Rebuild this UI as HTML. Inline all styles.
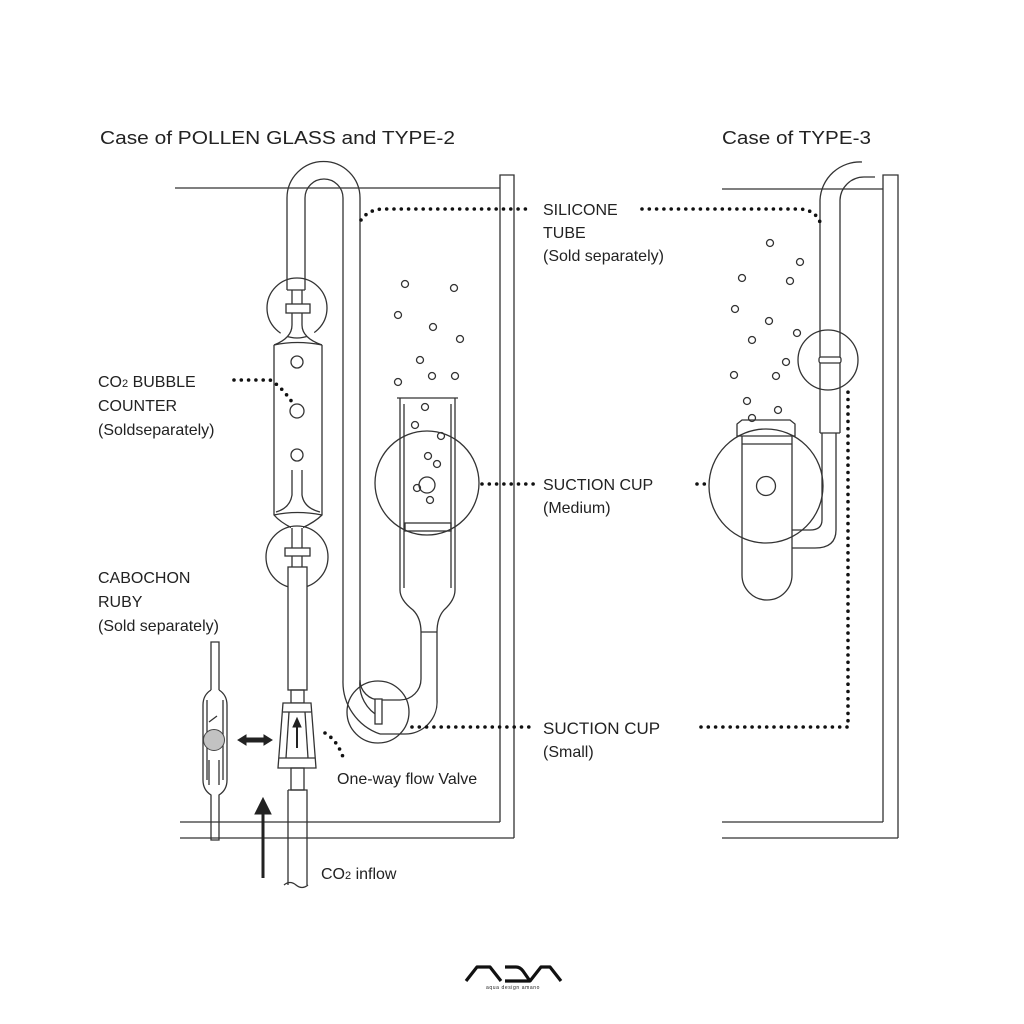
<!DOCTYPE html>
<html><head><meta charset="utf-8"><style>
html,body{margin:0;padding:0;background:#fff;}
svg{display:block;}
text{font-family:"Liberation Sans",sans-serif;fill:#222;}
</style></head><body>
<svg width="1024" height="1024" viewBox="0 0 1024 1024" xmlns="http://www.w3.org/2000/svg">
<g fill="none" stroke="#333" stroke-width="1.3">
<line x1="175" y1="188" x2="500" y2="188"/>
<path d="M500 822 V175 H514 V838"/>
<line x1="180" y1="822" x2="500" y2="822"/>
<line x1="180" y1="838" x2="514" y2="838"/>

<path d="M287 290 V198 A36.5 36.5 0 0 1 360 198 V680 A37 37 0 0 0 380 717"/>
<path d="M305 290 V198 A19 19 0 0 1 343 198 V680 A55 55 0 0 0 380 734"/>
<path d="M380 734 H405 A32 32 0 0 0 437 700 V632 M360 680 A20 20 0 0 0 380 700 H400 A21 21 0 0 0 421 679 V632 M421 632 H437"/>

<circle cx="297" cy="308" r="30"/>
<rect x="287" y="290" width="18" height="14" fill="#fff" stroke="none"/>
<line x1="287" y1="290" x2="305" y2="290"/>
<rect x="286" y="304" width="24" height="9" fill="#fff"/>
<line x1="292" y1="290" x2="292" y2="304"/><line x1="302" y1="290" x2="302" y2="304"/>
<path d="M292 313 V325 Q292 338 274 345 M302 313 V325 Q302 338 322 345" fill="#fff"/>
<path d="M274 345 Q297 340 322 345"/>
<path d="M274 345 V515 Q280 522 292 528 M322 345 V515 Q315 522 302 528"/>
<path d="M274 515 Q297 510 322 515"/>
<path d="M292 470 V495 Q290 508 276 512 M302 470 V495 Q304 508 320 512"/>
<circle cx="297" cy="362" r="6"/><circle cx="297" cy="411" r="7"/><circle cx="297" cy="455" r="6"/>
<circle cx="297" cy="557" r="31"/>
<rect x="291" y="527" width="12" height="21" fill="#fff" stroke="none"/>
<line x1="292" y1="528" x2="292" y2="548"/><line x1="302" y1="528" x2="302" y2="548"/>
<rect x="285" y="548" width="25" height="8" fill="#fff"/>
<line x1="292" y1="556" x2="292" y2="567"/><line x1="302" y1="556" x2="302" y2="567"/>
<rect x="288" y="567" width="19" height="123" fill="#fff"/>
<rect x="291" y="690" width="13" height="13"/>
<path d="M283 703 H311 L316 768 H278 Z" fill="#fff"/>
<line x1="283" y1="712" x2="311" y2="712"/><line x1="279" y1="758" x2="315" y2="758"/>
<line x1="289" y1="712" x2="286" y2="758"/><line x1="305" y1="712" x2="308" y2="758"/>
<rect x="291" y="768" width="13" height="22"/>
<path d="M288 790 H307 V885 M288 790 V885"/>
<path d="M284 885 Q290 880 296 885 T308 885" />

<path d="M211 690 V642 H219 V690"/>
<path d="M211 690 Q203 695 203 705 V780 Q203 790 211 795 V840 H219 V795 Q227 790 227 780 V705 Q227 695 219 690"/>
<path d="M207 700 V780 M223 700 V780 M209 760 V785 M219 760 V785 M209 722 L217 716"/>

<path d="M397 398 H458 M400 398 V590 Q400 600 413 610 Q421 618 421 632 M455 398 V590 Q455 600 444 610 Q437 618 437 632"/>
<path d="M404 404 V588 M451 404 V588"/>
<rect x="405" y="523" width="46" height="8"/>
<circle cx="427" cy="483" r="52"/>
<circle cx="427" cy="485" r="8"/><circle cx="417" cy="488" r="3.5"/><circle cx="430" cy="500" r="3.5"/>
<circle cx="428" cy="456" r="3.5"/><circle cx="437" cy="464" r="3.5"/>
<circle cx="425" cy="407" r="3.5"/><circle cx="415" cy="425" r="3.5"/><circle cx="441" cy="436" r="3.5"/>
<circle cx="378" cy="712" r="31"/>
<rect x="375" y="699" width="7" height="25" fill="#fff"/>
<circle cx="405" cy="284" r="3.5"/><circle cx="454" cy="288" r="3.5"/><circle cx="398" cy="315" r="3.5"/>
<circle cx="433" cy="327" r="3.5"/><circle cx="460" cy="339" r="3.5"/><circle cx="420" cy="360" r="3.5"/>
<circle cx="432" cy="376" r="3.5"/><circle cx="455" cy="376" r="3.5"/><circle cx="398" cy="382" r="3.5"/>

<line x1="722" y1="189" x2="883" y2="189"/>
<path d="M883 822 V175 H898 V838"/>
<line x1="722" y1="822" x2="883" y2="822"/>
<line x1="722" y1="838" x2="898" y2="838"/>
<path d="M820 433 V200 A40 40 0 0 1 862 162"/>
<path d="M840 433 V200 A24 24 0 0 1 864 177 H875"/>
<line x1="820" y1="433" x2="840" y2="433"/>
<path d="M822 433 V520 Q822 530 810 530 H792 M836 433 V530 Q836 548 815 548 H792"/>
<circle cx="828" cy="360" r="30"/>
<rect x="819" y="357" width="22" height="6" rx="2" fill="#fff"/>
<path d="M737 436 V424 L742 420 H790 L795 424 V436 Z"/>
<path d="M742 436 V575 A25 25 0 0 0 792 575 V436"/>
<line x1="742" y1="444" x2="792" y2="444"/>
<circle cx="766" cy="486" r="57"/>
<circle cx="766" cy="486" r="9.5"/>
<circle cx="752" cy="418" r="3.5"/><circle cx="778" cy="410" r="3.5"/><circle cx="747" cy="401" r="3.5"/>
<circle cx="734" cy="375" r="3.5"/><circle cx="776" cy="376" r="3.5"/><circle cx="786" cy="362" r="3.5"/>
<circle cx="752" cy="340" r="3.5"/><circle cx="797" cy="333" r="3.5"/><circle cx="769" cy="321" r="3.5"/>
<circle cx="735" cy="309" r="3.5"/><circle cx="790" cy="281" r="3.5"/><circle cx="742" cy="278" r="3.5"/>
<circle cx="800" cy="262" r="3.5"/><circle cx="770" cy="243" r="3.5"/>
</g>

<g fill="#222" stroke="#222">
<circle cx="214" cy="740" r="10.5" fill="#c2c2c2" stroke="#444"/>
<path d="M238 740 L246 735 V738 H264 V735 L272 740 L264 745 V742 H246 V745 Z"/>
<path d="M263 878 V812" stroke-width="3" fill="none"/>
<path d="M255 814 L263 798 L271 814 Z"/>
<path d="M297 748 V725" stroke-width="2" fill="none"/>
<path d="M293 727 L297 718 L301 727 Z"/>
</g>

<g fill="none" stroke="#111" stroke-width="3.6" stroke-linecap="round" stroke-dasharray="0 7.3">
<path d="M361 220 Q368 210 382 209 H532"/>
<path d="M642 209 H800 Q815 210 820 222"/>
<path d="M234 380 H270 Q280 385 292 402"/>
<path d="M482 484 H534"/>
<path d="M697 484 H711"/>
<path d="M412 727 H532"/>
<path d="M701 727 H848 V388"/>
<path d="M325 733 Q337 740 343 757"/>
</g>

<g font-size="18">
<text x="100" y="144" textLength="355" lengthAdjust="spacingAndGlyphs">Case of POLLEN GLASS and TYPE-2</text>
<text x="722" y="144" textLength="149" lengthAdjust="spacingAndGlyphs">Case of TYPE-3</text>
</g>
<g font-size="16">
<text x="543" y="215">SILICONE</text>
<text x="543" y="238">TUBE</text>
<text x="543" y="261">(Sold separately)</text>
<text x="98" y="387">CO<tspan font-size="11">2</tspan> BUBBLE</text>
<text x="98" y="411">COUNTER</text>
<text x="98" y="435">(Soldseparately)</text>
<text x="98" y="583">CABOCHON</text>
<text x="98" y="607">RUBY</text>
<text x="98" y="631">(Sold separately)</text>
<text x="543" y="490">SUCTION CUP</text>
<text x="543" y="513">(Medium)</text>
<text x="543" y="734" font-size="17">SUCTION CUP</text>
<text x="543" y="757">(Small)</text>
<text x="337" y="784">One-way flow Valve</text>
<text x="321" y="879">CO<tspan font-size="11">2</tspan> inflow</text>
</g>

<g fill="none" stroke="#111" stroke-width="3.2" stroke-linejoin="round">
<path d="M466 981 L477 967 H490 L501 981"/>
<path d="M505 967 H516 Q520 967 523 971 L530 981 H505"/>
<path d="M530 981 L541 967 H550 L561 981"/>
</g>
<text x="513" y="989" font-size="5" text-anchor="middle" letter-spacing="0.6">aqua design amano</text>
</svg>
</body></html>
